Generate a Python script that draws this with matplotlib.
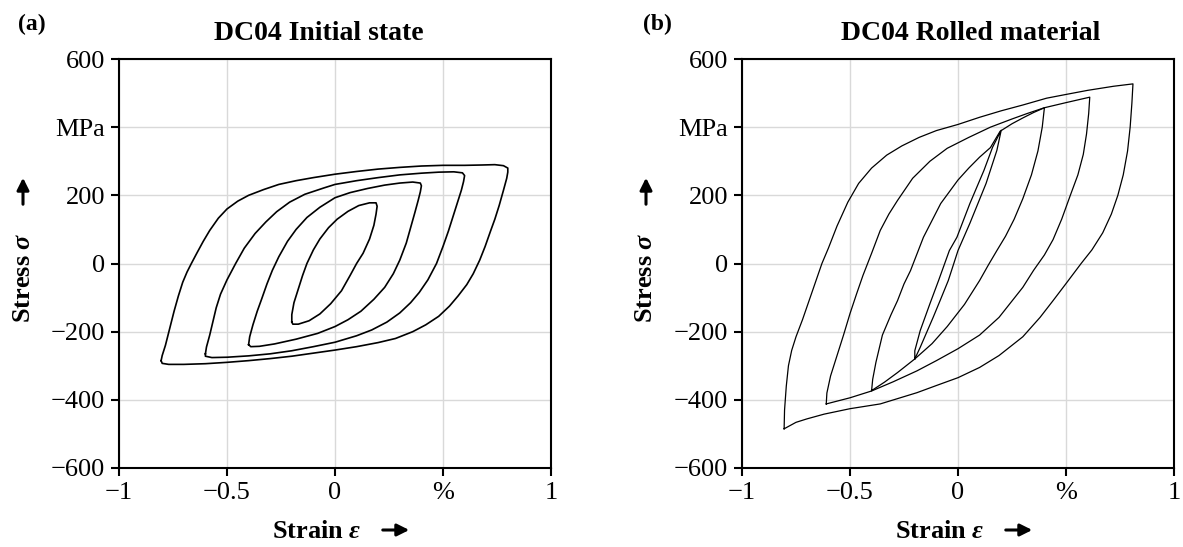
import numpy as np
import matplotlib
matplotlib.use("Agg")
import matplotlib.pyplot as plt

plt.rcParams['font.family'] = ['Liberation Serif', 'DejaVu Serif']
plt.rcParams['mathtext.fontset'] = 'custom'
plt.rcParams['mathtext.rm'] = 'Liberation Serif'
plt.rcParams['mathtext.it'] = 'Liberation Serif:bold:italic'
plt.rcParams['mathtext.bf'] = 'Liberation Serif:bold'

# ---- (a) DC04 initial state: 4 loops, loading branch then unloading branch
strain_a1 = [-0.20, -0.20, -0.19, -0.17, -0.15, -0.13, -0.10, -0.07, -0.03, 0.01, 0.06, 0.11, 0.16, 0.19, 0.195,
             0.19, 0.18, 0.16, 0.13, 0.10, 0.07, 0.03, -0.02, -0.07, -0.12, -0.17, -0.195, -0.20]
stress_a1 = [-172, -150, -115, -75, -35, 0, 40, 72, 105, 130, 153, 170, 178, 178, 168,
             145, 112, 72, 30, 0, -35, -80, -118, -148, -168, -178, -178, -172]

strain_a2 = [-0.40, -0.395, -0.38, -0.36, -0.34, -0.315, -0.29, -0.26, -0.22, -0.18, -0.13, -0.07, 0.0,
             0.07, 0.15, 0.23, 0.30, 0.36, 0.395, 0.40,
             0.395, 0.385, 0.37, 0.35, 0.33, 0.30, 0.27, 0.23, 0.18, 0.12, 0.06, 0.0, -0.08, -0.18,
             -0.28, -0.35, -0.39, -0.40]
stress_a2 = [-238, -215, -180, -140, -105, -60, -20, 20, 65, 100, 135, 165, 193,
             208, 220, 230, 236, 239, 236, 228,
             210, 185, 150, 105, 60, 10, -30, -70, -105, -140, -165, -185, -205, -222,
             -236, -243, -244, -238]

strain_a3 = [-0.60, -0.595, -0.58, -0.565, -0.55, -0.53, -0.50, -0.46, -0.42, -0.37, -0.32, -0.27, -0.21,
             -0.14, -0.05, 0.0, 0.10, 0.20, 0.30, 0.40, 0.48, 0.55, 0.59, 0.60,
             0.595, 0.585, 0.565, 0.545, 0.525, 0.50, 0.47, 0.43, 0.39, 0.35, 0.30, 0.24, 0.17, 0.10,
             0.0, -0.10, -0.20, -0.30, -0.40, -0.50, -0.57, -0.60, -0.60]
stress_a3 = [-265, -245, -210, -170, -130, -90, -48, 0, 45, 88, 122, 152, 180,
             203, 222, 232, 243, 252, 260, 265, 268, 269, 266, 258,
             240, 215, 175, 135, 95, 50, 0, -48, -85, -115, -145, -172, -195, -212,
             -231, -244, -256, -265, -271, -275, -276, -272, -265]

strain_a4 = [-0.805, -0.80, -0.785, -0.765, -0.745, -0.725, -0.705, -0.685, -0.665, -0.64, -0.61, -0.58,
             -0.54, -0.50, -0.45, -0.40, -0.33, -0.26, -0.18, -0.10, 0.0, 0.10, 0.20, 0.30, 0.40,
             0.50, 0.60, 0.68, 0.74, 0.78, 0.80, 0.80,
             0.795, 0.78, 0.76, 0.74, 0.72, 0.695, 0.67, 0.64, 0.61, 0.57, 0.53, 0.48, 0.42, 0.36,
             0.28, 0.20, 0.10, 0.0, -0.10, -0.20, -0.30, -0.40, -0.50, -0.60, -0.70, -0.77, -0.80, -0.805]
stress_a4 = [-285, -270, -240, -190, -140, -95, -55, -25, 0, 30, 65, 97,
             133, 160, 183, 200, 217, 232, 243, 252, 262, 270, 277, 282, 286,
             288, 288, 289, 290, 287, 280, 268,
             250, 215, 170, 130, 95, 50, 10, -30, -62, -95, -125, -155, -180, -200,
             -220, -232, -244, -254, -263, -272, -279, -285, -290, -294, -296, -296, -293, -285]

# ---- (b) DC04 rolled material
strain_b1 = [-0.20, -0.20, -0.175, -0.13, -0.09, -0.04, -0.005, 0.055, 0.12, 0.16, 0.20,
             0.18, 0.13, 0.055, 0.0, -0.045, -0.083, -0.115, -0.175, -0.20]
stress_b1 = [-280, -256, -197, -118, -50, 38, 77, 176, 273, 341, 391,
             332, 235, 118, 38, -50, -109, -158, -246, -280]

strain_b2 = [-0.40, -0.395, -0.38, -0.35, -0.31, -0.28, -0.25, -0.22, -0.16, -0.08, 0.0, 0.05, 0.10,
             0.15, 0.195, 0.25, 0.30, 0.35, 0.40,
             0.39, 0.37, 0.34, 0.30, 0.26, 0.22, 0.18, 0.14, 0.10, 0.03, -0.05, -0.12, -0.20,
             -0.28, -0.34, -0.40]
stress_b2 = [-373, -340, -290, -210, -150, -109, -60, -21, 77, 176, 245, 280, 312,
             340, 388, 410, 427, 443, 457,
             400, 330, 260, 190, 130, 80, 38, -5, -50, -120, -185, -235, -280,
             -320, -348, -373]

strain_b3 = [-0.61, -0.607, -0.59, -0.56, -0.53, -0.50, -0.47, -0.44, -0.40, -0.36, -0.32, -0.28,
             -0.21, -0.13, -0.05, 0.05, 0.15, 0.25, 0.32, 0.40, 0.50, 0.61,
             0.605, 0.595, 0.58, 0.555, 0.52, 0.48, 0.44, 0.40, 0.35, 0.30, 0.25, 0.19, 0.10,
             0.0, -0.10, -0.19, -0.30, -0.40, -0.50, -0.61]
stress_b3 = [-412, -380, -330, -270, -210, -147, -90, -35, 30, 97, 145, 185,
             250, 300, 338, 370, 400, 424, 440, 457, 472, 488,
             440, 380, 320, 260, 200, 130, 70, 25, -20, -70, -110, -158, -210,
             -250, -285, -315, -347, -374, -394, -412]

strain_b4 = [-0.805, -0.803, -0.795, -0.785, -0.77, -0.75, -0.72, -0.69, -0.66, -0.63, -0.60, -0.56,
             -0.51, -0.46, -0.40, -0.33, -0.26, -0.18, -0.10, 0.0, 0.10, 0.20, 0.30, 0.41, 0.50,
             0.60, 0.72, 0.81,
             0.805, 0.797, 0.785, 0.765, 0.74, 0.71, 0.67, 0.62, 0.57, 0.50, 0.44, 0.38, 0.30,
             0.19, 0.10, 0.0, -0.10, -0.19, -0.36, -0.50, -0.62, -0.70, -0.75, -0.805]
stress_b4 = [-485, -430, -360, -300, -255, -215, -165, -110, -55, 0, 45, 110,
             180, 235, 280, 318, 345, 370, 390, 408, 429, 448, 465, 485, 496,
             508, 520, 527,
             470, 400, 330, 260, 200, 145, 90, 40, 0, -59, -109, -158, -215,
             -270, -305, -335, -358, -379, -412, -426, -442, -456, -466, -485]

loops_a = [(strain_a1, stress_a1), (strain_a2, stress_a2), (strain_a3, stress_a3), (strain_a4, stress_a4)]
loops_b = [(strain_b1, stress_b1), (strain_b2, stress_b2), (strain_b3, stress_b3), (strain_b4, stress_b4)]

x_ticks = [-1, -0.5, 0, 0.5, 1]
x_labels = ['\u22121', '\u22120.5', '0', '%', '1']
y_ticks = [-600, -400, -200, 0, 200, 400, 600]
y_labels = ['\u2212600', '\u2212400', '\u2212200', '0', '200', 'MPa', '600']

W, H = 1183, 547
fig = plt.figure(figsize=(W / 100, H / 100), dpi=100)

def fx(p):
    return p / W

def fy(p):
    return 1 - p / H

def style_axes(ax):
    ax.set_xlim(-1, 1)
    ax.set_ylim(-600, 600)
    ax.set_xticks(x_ticks)
    ax.set_xticklabels(x_labels)
    ax.set_yticks(y_ticks)
    ax.set_yticklabels(y_labels)
    ax.grid(True, color='#d9d9d9', lw=1.0)
    ax.set_axisbelow(True)
    for s in ax.spines.values():
        s.set_linewidth(1.5)
        s.set_color('black')
    ax.tick_params(direction='out', length=6, width=1.5, labelsize=19, pad=4, colors='black')

panels = [
    (119, loops_a, 1.2, 'DC04 Initial state', 319, '(a)', 32),
    (742, loops_b, 0.9, 'DC04 Rolled material', 971, '(b)', 657),
]

for left, loops, lw, title, tx, tag, tagx in panels:
    ax = fig.add_axes([fx(left), 79 / H, 432 / W, 409 / H])
    style_axes(ax)
    for strain, stress in loops:
        ax.plot(strain, stress, color='black', lw=lw, solid_joinstyle='round')
    fig.text(fx(tx), fy(34), title, ha='center', va='center', fontsize=20, fontweight='bold')
    fig.text(fx(tagx), fy(24), tag, ha='center', va='center', fontsize=17, fontweight='bold')

    # y label with arrow
    ylx = left - 96
    fig.text(fx(ylx), fy(278), r'Stress $\sigma$', rotation=90, ha='center', va='center',
             fontsize=19, fontweight='bold')
    fig.add_artist(matplotlib.patches.FancyArrowPatch(
        (fx(ylx), fy(207)), (fx(ylx), fy(175)), transform=fig.transFigure,
        arrowstyle='-|>', mutation_scale=18, lw=2.2, color='black'))

    # x label with arrow
    xc = left + 198
    fig.text(fx(xc), fy(531), r'Strain $\varepsilon$', ha='center', va='center',
             fontsize=19, fontweight='bold')
    fig.add_artist(matplotlib.patches.FancyArrowPatch(
        (fx(left + 261), fy(530)), (fx(left + 293), fy(530)), transform=fig.transFigure,
        arrowstyle='-|>', mutation_scale=18, lw=2.2, color='black'))

fig.savefig('out.png', dpi=100)
